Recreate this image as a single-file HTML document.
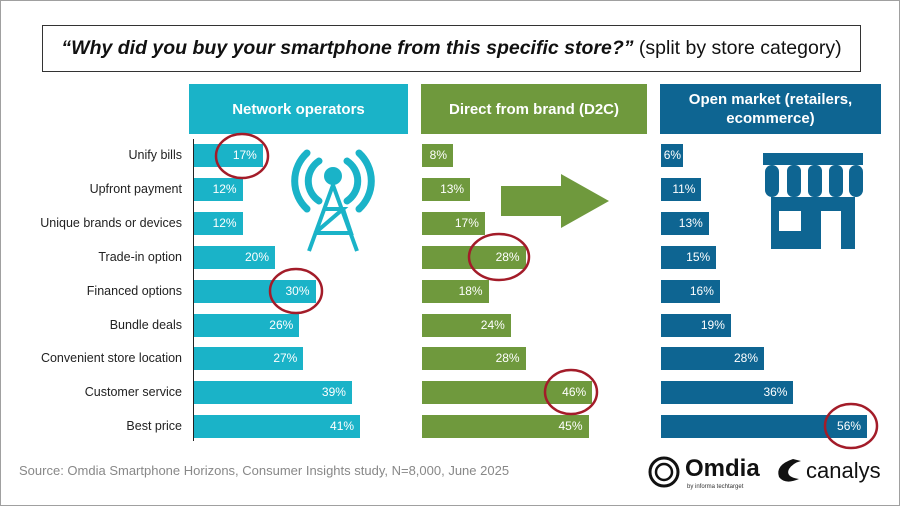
<!DOCTYPE html>
<html><head><meta charset="utf-8"><style>
body{margin:0;background:#fff;font-family:"Liberation Sans","DejaVu Sans",sans-serif;}
#c{position:relative;width:898px;height:504px;border:1px solid #a0a0a0;overflow:hidden;}
.t{position:absolute;left:41px;top:24px;width:817px;height:45px;border:1px solid #333;font-size:19.5px;line-height:45px;text-align:center;color:#111;}
.h{position:absolute;top:83px;height:50px;color:#fff;font-weight:bold;font-size:15px;display:flex;align-items:center;justify-content:center;text-align:center;line-height:19px;}
.lab{position:absolute;left:0;width:181px;text-align:right;font-size:12.5px;color:#222;}
.b{position:absolute;height:23px;color:#fff;font-size:12px;text-align:right;line-height:23px;box-sizing:border-box;padding-right:6px;}
.n{background:#1ab3c8}.g{background:#6f993d}.o{background:#0e6592}
.src{position:absolute;left:18px;top:462px;font-size:13px;color:#888;}
</style></head><body><div id="c">
<div class="t"><b><i>“Why did you buy your smartphone from this specific store?”</i></b> (split by store category)</div>
<div class="h n" style="left:188px;width:219px">Network operators</div>
<div class="h g" style="left:420px;width:226px">Direct from brand (D2C)</div>
<div class="h o" style="left:659px;width:221px">Open market (retailers,<br>ecommerce)</div>
<div style="position:absolute;left:192px;top:138px;width:1px;height:302px;background:#222"></div>
<div id="rows"></div>
<svg style="position:absolute;left:0;top:0" width="900" height="506">
<g fill="none" stroke="#1ab3c8" stroke-width="7" stroke-linecap="round">
<path d="M318 160 a24 24 0 0 0 0 40"/><path d="M346 160 a24 24 0 0 1 0 40"/>
<path d="M306 152 a38 38 0 0 0 0 56"/><path d="M358 152 a38 38 0 0 1 0 56"/>
</g>
<circle cx="332" cy="175" r="9" fill="#1ab3c8"/>
<g stroke="#1ab3c8" stroke-width="4" fill="none">
<path d="M332 184 L308 250 M332 184 L356 250 M322 208 L342 208 L314 232 M342 208 L350 232 L314 232"/>
</g>
<polygon points="500,185 560,185 560,173 608,200 560,227 560,215 500,215" fill="#6f993d"/>
<g fill="#0e6592">
<rect x="762" y="152" width="100" height="12"/>
<rect x="764" y="164" width="14" height="32" rx="7"/><rect x="786" y="164" width="14" height="32" rx="6"/><rect x="807" y="164" width="14" height="32" rx="6"/><rect x="828" y="164" width="14" height="32" rx="6"/><rect x="848" y="164" width="14" height="32" rx="7"/>
<path d="M770 196 h84 v52 h-84z M778 210 v20 h22 v-20z M820 210 v38 h20 v-38z" fill-rule="evenodd"/>
</g>
<g fill="none" stroke="#a31c29" stroke-width="2.5">
<ellipse cx="241" cy="155" rx="26" ry="22"/>
<ellipse cx="295" cy="290" rx="26" ry="22"/>
<ellipse cx="498" cy="256" rx="30" ry="23"/>
<ellipse cx="570" cy="391" rx="26" ry="22"/>
<ellipse cx="850" cy="425" rx="26" ry="22"/>
</g>
<g transform="translate(647,456)"><circle cx="16" cy="15" r="14" fill="none" stroke="#111" stroke-width="3"/><circle cx="16" cy="15" r="8" fill="none" stroke="#111" stroke-width="2.5"/></g>
<text x="684" y="475" font-family="Liberation Sans" font-weight="bold" font-size="24" fill="#111">Omdia</text>
<text x="686" y="487" font-family="Liberation Sans" font-size="6" fill="#333">by informa techtarget</text>
<path d="M792 458 q-18 6 -14 18 q6 8 20 2 q-14 -2 -10 -10 q4 -6 12 -8z" fill="#111"/>
<text x="805" y="477" font-family="Liberation Sans" font-size="22" fill="#111">canalys</text>
</svg>
<div class="src">Source: Omdia Smartphone Horizons, Consumer Insights study, N=8,000, June 2025</div>
</div>
<script>
var L=["Unify bills","Upfront payment","Unique brands or devices","Trade-in option","Financed options","Bundle deals","Convenient store location","Customer service","Best price"];
var N=[17,12,12,20,30,26,27,39,41],G=[8,13,17,28,18,24,28,46,45],O=[6,11,13,15,16,19,28,36,56];
var h="";
for(var i=0;i<9;i++){var y=143+i*33.9;
h+='<div class="lab" style="top:'+(y+4)+'px">'+L[i]+'</div>';
h+='<div class="b n" style="left:193px;top:'+y+'px;width:'+(N[i]*4.05)+'px">'+N[i]+'%</div>';
h+='<div class="b g" style="left:421px;top:'+y+'px;width:'+Math.max(G[i]*3.7,31)+'px">'+G[i]+'%</div>';
h+='<div class="b o" style="left:660px;top:'+y+'px;width:'+Math.max(O[i]*3.68,22)+'px;'+(O[i]<8?'padding-right:2px':'')+'">'+O[i]+'%</div>';}
document.getElementById("rows").innerHTML=h;
</script>
</body></html>
